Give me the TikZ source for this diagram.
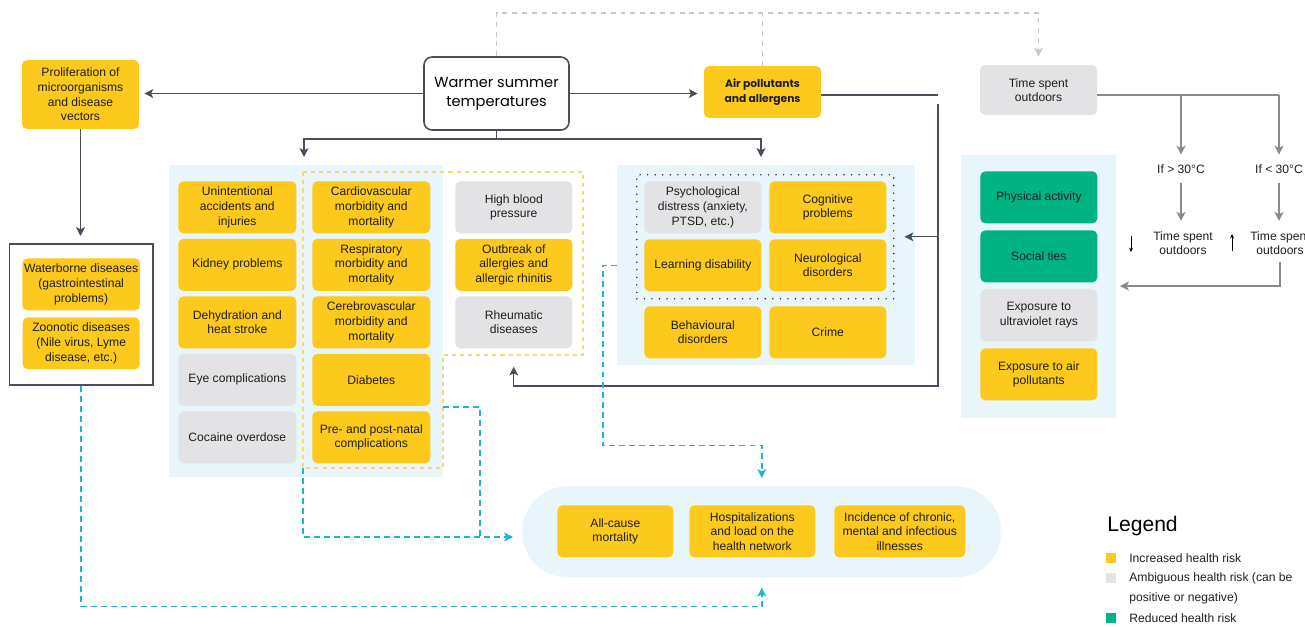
\documentclass[tikz,border=0pt]{standalone}
\usepackage{fontspec}
\setmainfont{Liberation Sans}
\newfontfamily\titlefont{Poppins}
\usetikzlibrary{arrows.meta,positioning}

\definecolor{riskup}{HTML}{FCC91C}
\definecolor{riskmix}{HTML}{E3E3E6}
\definecolor{riskdown}{HTML}{00B383}
\definecolor{panelblue}{HTML}{E8F5FB}
\definecolor{inkline}{HTML}{4A4E5C}
\definecolor{inktext}{HTML}{1E1E1E}
\definecolor{cyanlink}{HTML}{1DB5CF}
\definecolor{greylink}{HTML}{C9C9CB}
\definecolor{greyarrow}{HTML}{8A8A8A}
\definecolor{yellowdash}{HTML}{F5D86E}

\tikzset{
  box/.style={rectangle, rounded corners=0.1cm, align=center, text=inktext, anchor=center,
    minimum width=2.34cm, minimum height=1.04cm, inner sep=1pt,
    font=\fontsize{6.9}{8.3}\selectfont},
  up/.style={box, fill=riskup},
  mix/.style={box, fill=riskmix},
  down/.style={box, fill=riskdown},
  panel/.style={rectangle, fill=panelblue, anchor=north west, inner sep=0pt},
  plain/.style={align=center, text=inktext, anchor=center, inner sep=0pt,
    font=\fontsize{6.9}{8.3}\selectfont},
  link/.style={draw=inkline, line width=0.8pt},
  arr/.style={link, -{Stealth[length=5pt,width=5pt,inset=1.2pt]}},
  greydash/.style={draw=greylink, line width=0.8pt, dash pattern=on 2.8pt off 2.8pt},
  cyandash/.style={draw=cyanlink, line width=0.9pt, dash pattern=on 3.4pt off 2.3pt},
  cyanarr/.style={cyandash, -{Stealth[length=5pt,width=5pt,inset=1.2pt]}},
  greyline/.style={draw=greyarrow, line width=0.9pt},
  greyarr/.style={greyline, -{Stealth[length=5pt,width=5pt,inset=1.2pt]}},
  keysq/.style={rectangle, minimum size=0.2cm, inner sep=0pt}
}

\begin{document}
\begin{tikzpicture}[x=0.02cm, y=-0.02cm]
    \useasboundingbox (0,0) rectangle (1305,626);

    \node[panel, minimum width=5.48cm, minimum height=6.24cm] (midpanel) at (169,165) {};
    \node[panel, minimum width=5.96cm, minimum height=4cm] (psychpanel) at (617,165) {};
    \node[panel, minimum width=3.1cm, minimum height=5.26cm] (rightpanel) at (961,155) {};
    \node[panel, fill=white, draw=inkline, line width=0.9pt, minimum width=2.88cm, minimum height=2.82cm] (waterpanel) at (8.5,243) {};
    \node[panel, rounded corners=0.9cm, minimum width=9.58cm, minimum height=1.82cm] (outcomes) at (522,486) {};

    \draw[draw=yellowdash, line width=0.6pt, dash pattern=on 2.3pt off 2.3pt]
      (303,172) -- (583,172) -- (583,355) -- (443,355) -- (443,468) -- (303,468) -- cycle;
    \node[draw=inktext, line width=0.9pt, line cap=round, dash pattern=on 0pt off 4.3pt,
      minimum width=5.14cm, minimum height=2.48cm, anchor=north west, inner sep=0pt] (psychdots) at (636,174) {};

    \node[draw=inkline, line width=0.9pt, fill=white, rounded corners=0.16cm, minimum width=2.9cm,
      minimum height=1.46cm, align=center, text=black, font=\titlefont\fontsize{8.3}{10.6}\selectfont]
      (warm) at (496.5,93.5) {Warmer summer\\temperatures};
    \node[up, minimum height=1.38cm] (prolif) at (80.5,94.5) {Proliferation of\\microorganisms\\and disease\\vectors};
    \node[up, font=\titlefont\bfseries\fontsize{6.1}{8.2}\selectfont] (air) at (762.5,92) {Air pollutants\\and allergens};
    \node[mix, minimum height=1cm] (timeout) at (1038.5,90) {Time spent\\outdoors};

    \matrix[anchor=north west, inner sep=0pt, column sep=0.32cm, row sep=0.11cm, ampersand replacement=\&] (midgrid) at (178,181)
    {
      \node[up, minimum width=2.36cm](accid){Unintentional\\accidents and\\injuries}; \& \node[up, minimum width=2.36cm](cardio){Cardiovascular\\morbidity and\\mortality}; \& [0.18cm] \node[mix](hbp){High blood\\pressure}; \\
      \node[up, minimum width=2.36cm](kidney){Kidney problems}; \& \node[up, minimum width=2.36cm](resp){Respiratory\\morbidity and\\mortality}; \& \node[up](allerg){Outbreak of\\allergies and\\allergic rhinitis}; \\
      \node[up, minimum width=2.36cm](dehyd){Dehydration and\\heat stroke}; \& \node[up, minimum width=2.36cm](cereb){Cerebrovascular\\morbidity and\\mortality}; \& \node[mix](rheum){Rheumatic\\diseases}; \\
      \node[mix, minimum width=2.36cm](eye){Eye complications}; \& \node[up, minimum width=2.36cm](diab){Diabetes}; \& \\
      \node[mix, minimum width=2.36cm](cocaine){Cocaine overdose}; \& \node[up, minimum width=2.36cm](pnatal){Pre- and post-natal\\complications}; \& \\
    };

    \matrix[anchor=north west, inner sep=0pt, column sep=0.16cm, row sep=0.12cm, ampersand replacement=\&] (psychgrid) at (644,181)
    {
      \node[mix](distress){Psychological\\distress (anxiety,\\PTSD, etc.)}; \& \node[up](cognit){Cognitive\\problems}; \\
      \node[up](learn){Learning disability}; \& \node[up](neuro){Neurological\\disorders}; \\[0.18cm]
      \node[up](behav){Behavioural\\disorders}; \& \node[up](crime){Crime}; \\
    };

    \matrix[anchor=north west, inner sep=0pt, row sep=0.14cm, ampersand replacement=\&] (rightgrid) at (980,171)
    {
      \node[down](phys){Physical activity}; \\
      \node[down](social){Social ties}; \\
      \node[mix](uv){Exposure to\\ultraviolet rays}; \\
      \node[up](airexp){Exposure to air\\pollutants}; \\
    };

    \matrix[anchor=north west, inner sep=0pt, row sep=0.14cm, ampersand replacement=\&] (watergrid) at (22,258)
    {
      \node[up](water){Waterborne diseases\\(gastrointestinal\\problems)}; \\
      \node[up](zoon){Zoonotic diseases\\(Nile virus, Lyme\\disease, etc.)}; \\
    };

    \matrix[anchor=north west, inner sep=0pt, column sep=0.32cm, ampersand replacement=\&] (outgrid) at (557,505)
    {
      \node[up, minimum width=2.32cm](allcause){All-cause\\mortality}; \& \node[up, minimum width=2.52cm](hosp){Hospitalizations\\and load on the\\health network}; \& [0.06cm] \node[up, minimum width=2.62cm](incid){Incidence of chronic,\\mental and infectious\\illnesses}; \\
    };

    \node[plain, minimum height=0.26cm] (hot) at (1181,169) {If > 30°C};
    \node[plain, minimum height=0.26cm] (cold) at (1279,169) {If < 30°C};
    \node[plain] (hotout) at (1183,243) {Time spent\\outdoors};
    \node[plain] (coldout) at (1280,243) {Time spent\\outdoors};

    \coordinate (fork) at (496.5,139);
    \coordinate (midtip) at (304,157);
    \coordinate (psychtip) at (761,157);
    \coordinate (airturn) at (938,95);
    \coordinate (airdown) at (938,104);
    \coordinate (airbase) at (938,386);
    \coordinate (skyL) at (496.5,13);
    \coordinate (skyR) at (1038.5,13);
    \coordinate (hotfork) at (1181,95);
    \coordinate (coldfork) at (1279,95);
    \coordinate (backin) at (1116,286);
    \coordinate (grpsw) at (303,468);
    \coordinate (outin) at (522,537);
    \coordinate (midout) at (443,407);
    \coordinate (cyjoin) at (480,537);

    \draw[arr, shorten >=0.1cm] (warm.west) -- (warm.west -| prolif.east);
    \draw[arr, shorten >=0.12cm] (warm.east) -- (warm.east -| air.west);
    \draw[link] (warm.south) -- (fork);
    \draw[arr] (fork) -| (midtip);
    \draw[arr] (fork) -| (psychtip);
    \draw[arr, shorten >=0.14cm] (prolif.south) -- (prolif.south |- waterpanel.north);
    \draw[link] (air.east |- airturn) -- (airturn);
    \draw[arr, shorten >=0.36cm] (airdown) -- (airbase) -| (rheum.south);
    \draw[arr, shorten >=0.2cm] (airdown |- psychdots.east) -- (psychdots.east);

    \draw[greydash, -{Stealth[length=5pt,width=5pt,inset=1.2pt]}, shorten >=0.16cm] (warm.north) -- (skyL) -- (skyR) -- (timeout.north);
    \draw[greydash] (air.north) -- (air.north |- skyL);

    \draw[greyline] (timeout.east |- coldfork) -- (coldfork);
    \draw[greyarr, shorten >=0.15cm] (hotfork) -- (hot);
    \draw[greyarr, shorten >=0.15cm] (coldfork) -- (cold);
    \draw[greyarr, shorten <=0.14cm, shorten >=0.2cm] (hot.south) -- (hot.south |- hotout.north);
    \draw[greyarr, shorten <=0.14cm, shorten >=0.2cm] (cold.south) -- (cold.south |- coldout.north);
    \draw[greyarr, shorten <=0.13cm, shorten >=0.08cm] (coldout.south) |- (backin);
    \draw[line width=0.5pt, -{Stealth[length=2.5pt,width=2.2pt]}] (1131,236) -- (1131,252);
    \draw[line width=0.5pt, -{Stealth[length=2.5pt,width=2.2pt]}] (1232,251) -- (1232,234);

    \draw[cyanarr, shorten >=0.2cm] (waterpanel.south) -- ++(0,221) -| (outcomes.south);
    \draw[cyanarr, shorten >=0.18cm] (grpsw) |- (outin);
    \draw[cyandash] (midout) -| (cyjoin);
    \draw[cyanarr, shorten >=0.16cm] (psychpanel.west |- learn) -- ++(-14,0) -- ++(0,180) -| (outcomes.north);

    \node[anchor=west, inner sep=0pt, font=\fontsize{12}{14}\selectfont] (lgtitle) at (1107,526) {Legend};
    \node[keysq, fill=riskup] (lgupsq) at (1111,558) {};
    \node[plain, anchor=west] (lgup) at (1129,558) {Increased health risk};
    \node[keysq, fill=riskmix] (lgmixsq) at (1111,578) {};
    \node[plain, anchor=west, align=left, font=\fontsize{6.9}{11.4}\selectfont] (lgmix) at (1129,588) {Ambiguous health risk (can be\\positive or negative)};
    \node[keysq, fill=riskdown] (lgdownsq) at (1111,618) {};
    \node[plain, anchor=west] (lgdown) at (1129,618) {Reduced health risk};
\end{tikzpicture}
\end{document}
